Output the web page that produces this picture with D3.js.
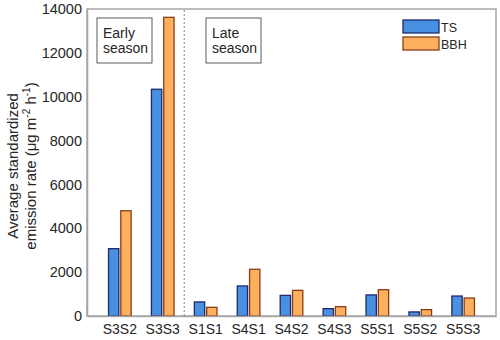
<!DOCTYPE html>
<html><head><meta charset="utf-8">
<script src="https://cdn.jsdelivr.net/npm/d3@7"></script>
<style>body{margin:0;background:#fff}svg{display:block}text{font-family:"Liberation Sans",Arial,sans-serif;fill:#262626}</style>
</head><body><svg id="c" width="500" height="340"></svg>
<script>
const categories = ["S3S2","S3S3","S1S1","S4S1","S4S2","S4S3","S5S1","S5S2","S5S3"];
const seriesNames = ["TS","BBH"];
const tsValues = [3070,10340,640,1370,940,335,960,185,910];
const bbhValues = [4800,13620,395,2130,1170,425,1200,290,820];
const yTicks = [0,2000,4000,6000,8000,10000,12000,14000];
const colors = {TS:{fill:"#4a90e2",stroke:"#1b2a6b"},BBH:{fill:"#ffb05e",stroke:"#8a3c16"}};

const svg = d3.select("#c");
const L=87,R=496,T=9,B=316;
const x = d3.scaleBand().domain(categories).range([L,R]).paddingOuter(0.49).paddingInner(0.45);
const x1 = d3.scaleBand().domain(seriesNames).range([0,x.bandwidth()]).paddingInner(0.08);
const y = d3.scaleLinear().domain([0,14000]).range([B,T]);

const data = categories.map((c,i)=>({c, vals:[{k:"TS",v:tsValues[i]},{k:"BBH",v:bbhValues[i]}]}));

// frame
svg.append("rect").attr("x",L).attr("y",T).attr("width",R-L).attr("height",B-T)
  .attr("fill","none").attr("stroke","#a6a6a6").attr("stroke-width",1.5);

// bars
const g = svg.append("g");
g.selectAll("g").data(data).join("g").attr("transform",d=>`translate(${x(d.c)},0)`)
 .selectAll("rect").data(d=>d.vals).join("rect")
 .attr("x",d=>x1(d.k)+0.5).attr("width",x1.bandwidth()-1)
 .attr("y",d=>y(d.v)).attr("height",d=>B-y(d.v))
 .attr("fill",d=>colors[d.k].fill).attr("stroke",d=>colors[d.k].stroke).attr("stroke-width",1.3);

// axes
const ya = d3.axisLeft(y).tickValues(yTicks).tickSize(0).tickPadding(5).tickFormat(d3.format("d"));
const yg = svg.append("g").attr("transform",`translate(${L},0)`).call(ya);
yg.select(".domain").attr("stroke","#a6a6a6").attr("stroke-width",1.5);
yg.selectAll("text").attr("font-size",14.5).style("font-family","Liberation Sans, Arial, sans-serif").attr("fill","#262626");
const xa = d3.axisBottom(x).tickSize(0).tickPadding(8);
const xg = svg.append("g").attr("transform",`translate(0,${B})`).call(xa);
xg.select(".domain").attr("stroke","#a6a6a6").attr("stroke-width",1.5);
xg.selectAll("text").attr("font-size",14).style("font-family","Liberation Sans, Arial, sans-serif").attr("fill","#262626");

// divider
const dx = (x("S3S3")+x.bandwidth()+x("S1S1"))/2;
svg.append("line").attr("x1",dx).attr("x2",dx).attr("y1",T+1).attr("y2",B)
  .attr("stroke","#666").attr("stroke-width",0.8).attr("stroke-dasharray","2,2");

// season boxes
function box(x0,lines){
  svg.append("rect").attr("x",x0).attr("y",18).attr("width",55).attr("height",45)
    .attr("fill","#fff").attr("stroke","#333").attr("stroke-width",0.8);
  lines.forEach((t,i)=>svg.append("text").attr("x",x0+6).attr("y",37.5+i*15).attr("font-size",14).text(t));
}
box(97,["Early","season"]);
box(206,["Late","season"]);

// legend
seriesNames.forEach((k,i)=>{
  svg.append("rect").attr("x",403).attr("y",20+i*17).attr("width",36).attr("height",13)
    .attr("fill",colors[k].fill).attr("stroke",colors[k].stroke).attr("stroke-width",1.3);
  svg.append("text").attr("x",441).attr("y",31.5+i*17).attr("font-size",12.5).text(k);
});

// y label
const yl = svg.append("text").attr("transform","translate(18,166) rotate(-90)").attr("text-anchor","middle").attr("font-size",15);
yl.append("tspan").attr("x",0).attr("dy",0).text("Average standardized");
const l2 = yl.append("tspan").attr("x",0).attr("dy",18);
l2.append("tspan").text("emission rate (μg m");
l2.append("tspan").attr("dy",-6).attr("font-size",10).text("-2");
l2.append("tspan").attr("dy",6).text(" h");
l2.append("tspan").attr("dy",-6).attr("font-size",10).text("-1");
l2.append("tspan").attr("dy",6).text(")");
</script></body></html>
